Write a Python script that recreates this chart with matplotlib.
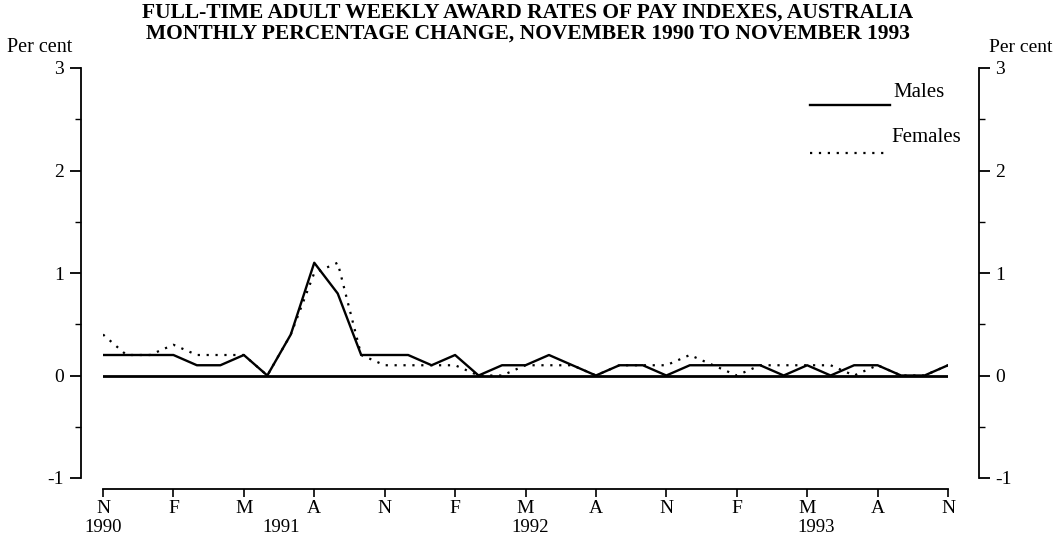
import matplotlib
matplotlib.use("Agg")
import matplotlib.pyplot as plt
import matplotlib.transforms as mtransforms
import numpy as np

plt.rcParams['font.family'] = ['Liberation Serif', 'DejaVu Serif']

# monthly % change, Nov 1990 .. Nov 1993 (37 months)
males = [0.2, 0.2, 0.2, 0.2, 0.1, 0.1, 0.2, 0.0, 0.4, 1.1, 0.8, 0.2,
         0.2, 0.2, 0.1, 0.2, 0.0, 0.1, 0.1, 0.2, 0.1, 0.0, 0.1, 0.1,
         0.0, 0.1, 0.1, 0.1, 0.1, 0.0, 0.1, 0.0, 0.1, 0.1, 0.0, 0.0, 0.1]
females = [0.4, 0.2, 0.2, 0.3, 0.2, 0.2, 0.2, 0.0, 0.4, 1.0, 1.1, 0.2,
           0.1, 0.1, 0.1, 0.1, 0.0, 0.0, 0.1, 0.1, 0.1, 0.0, 0.1, 0.1,
           0.1, 0.2, 0.1, 0.0, 0.1, 0.1, 0.1, 0.1, 0.0, 0.1, 0.0, 0.0, 0.1]
tick_labels = ['N', 'F', 'M', 'A', 'N', 'F', 'M', 'A', 'N', 'F', 'M', 'A', 'N']
years = ['1990', '1991', '1992', '1993']
year_pos = [0, 7.6, 18.2, 30.4]

months = np.arange(len(males))
dots = (0, (1, 3))

fig = plt.figure(figsize=(10.55, 5.55), dpi=100)
ax = fig.add_axes([103 / 1055, 77 / 555, 845 / 1055, 410 / 555])

ax.axhline(0, color='black', lw=2.0, zorder=1)
ax.plot(months, males, color='black', lw=1.7, zorder=3)
ax.plot(months, females, color='black', lw=1.6, linestyle=dots, zorder=2)

ax.set_xlim(0, 36)
ax.set_ylim(-1, 3)

# y axes on both sides
ax.spines['top'].set_visible(False)
ax.spines['left'].set_position(('outward', 16))
ax.spines['right'].set_position(('outward', 22))
ax.spines['bottom'].set_position(('outward', 8))
for s in ['left', 'right', 'bottom']:
    ax.spines[s].set_linewidth(1.3)

ax.set_yticks([-1, 0, 1, 2, 3])
ax.set_yticklabels(['-1', '0', '1', '2', '3'])
ax.set_yticks(np.arange(-0.5, 3, 1.0), minor=True)
ax.tick_params(axis='y', which='major', direction='out', length=8, width=1.3,
               labelsize=14, left=True, right=True, labelleft=True, labelright=True, pad=4)
ax.tick_params(axis='y', which='minor', direction='out', length=4, width=1.0,
               left=True, right=True)

ax.set_xticks(np.arange(0, 37, 3))
ax.set_xticklabels(tick_labels)
ax.tick_params(axis='x', direction='out', length=6, width=1.2, labelsize=14, pad=2)

trans = mtransforms.blended_transform_factory(ax.transData, ax.transAxes)
for yr, xp in zip(years, year_pos):
    ax.text(xp, -0.12, yr, transform=trans, ha='center', va='center', fontsize=13.5)

# legend drawn by hand
ax.plot([0.837, 0.931], [0.91, 0.91], transform=ax.transAxes, color='black', lw=1.7, clip_on=False)
ax.text(0.935, 0.94, 'Males', transform=ax.transAxes, fontsize=15, va='center', ha='left')
ax.plot([0.837, 0.925], [0.793, 0.793], transform=ax.transAxes, color='black', lw=1.6,
        linestyle=dots, clip_on=False)
ax.text(0.933, 0.83, 'Females', transform=ax.transAxes, fontsize=15, va='center', ha='left')

fig.text(40 / 1055, 1 - 48 / 555, 'Per cent', ha='center', va='center', fontsize=14.5)
fig.text(1021 / 1055, 1 - 48 / 555, 'Per cent', ha='center', va='center', fontsize=14)

fig.text(0.5, 1 - 13 / 555, 'FULL-TIME ADULT WEEKLY AWARD RATES OF PAY INDEXES, AUSTRALIA',
         ha='center', va='center', fontsize=15.5, fontweight='bold')
fig.text(0.5, 1 - 34 / 555, 'MONTHLY PERCENTAGE CHANGE, NOVEMBER 1990 TO NOVEMBER 1993',
         ha='center', va='center', fontsize=15.5, fontweight='bold')

fig.savefig('out.png', dpi=100)
